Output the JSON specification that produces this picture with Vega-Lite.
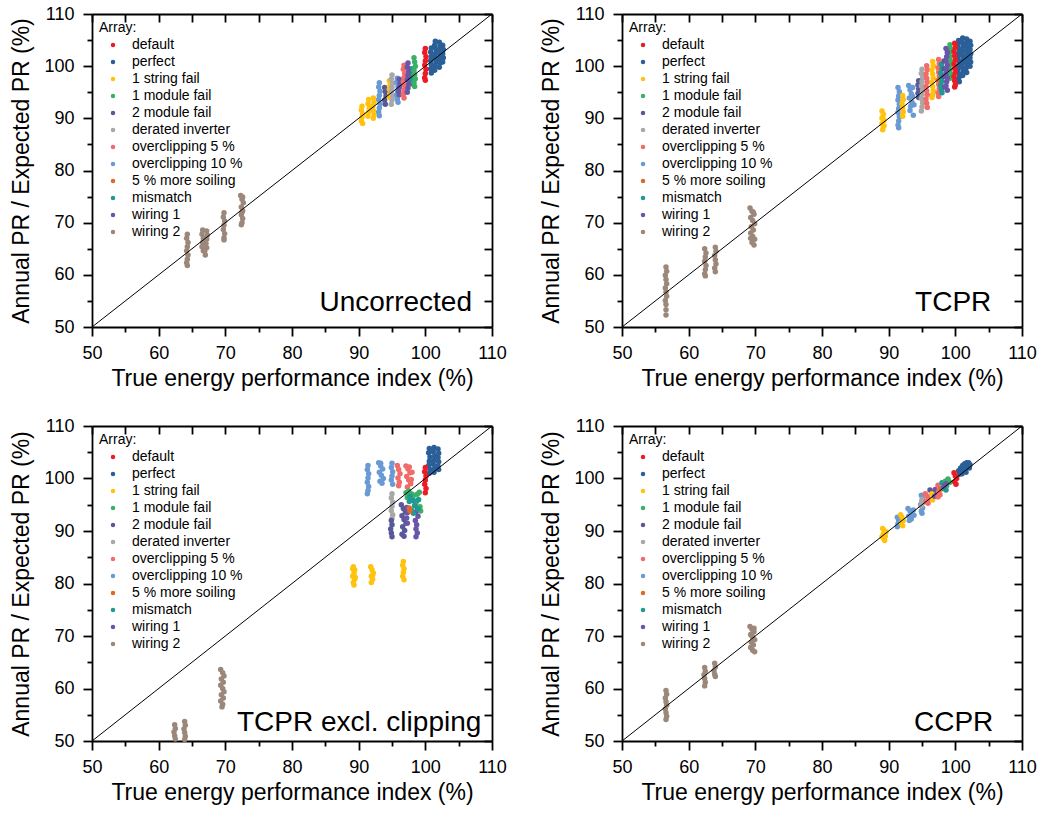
{
"$schema":"https://vega.github.io/schema/vega-lite/v6.json",
"background":"white",
"padding":{"left":10,"top":5,"right":10,"bottom":5},
"config":{
 "font":"Liberation Sans",
 "view":{"stroke":null},
 "axis":{"grid":false,"domainColor":"black","domainWidth":1.8,"tickColor":"black","tickWidth":1.8,"labelColor":"black","labelFontSize":18,"titleFontSize":23,"titleFontWeight":"normal","titleColor":"black","labelFont":"Liberation Sans","titleFont":"Liberation Sans","labelFlush":false,"labelOverlap":false},
 "legend":{"orient":"top-left","offset":1,"padding":6,"titleFontSize":14,"titleFontWeight":"normal","titleColor":"black","titleFont":"Liberation Sans","labelFontSize":14,"labelColor":"black","labelFont":"Liberation Sans","symbolType":"circle","symbolSize":20,"symbolOffset":7,"labelOffset":12,"rowPadding":3,"titlePadding":3,"symbolStrokeWidth":0}
},
"datasets":{
"diag":[{"x":50,"y":50},{"x":110,"y":110}],
"U":[
{"a":"w2","x":64.3,"y":67.8},{"a":"w2","x":64.2,"y":67.0},{"a":"w2","x":64.4,"y":66.2},{"a":"w2","x":64.3,"y":65.4},{"a":"w2","x":64.2,"y":64.6},{"a":"w2","x":64.4,"y":63.8},{"a":"w2","x":64.3,"y":63.0},{"a":"w2","x":64.2,"y":62.3},{"a":"w2","x":64.3,"y":61.8},
{"a":"w2","x":66.6,"y":68.6},{"a":"w2","x":66.5,"y":67.8},{"a":"w2","x":66.7,"y":67.0},{"a":"w2","x":66.6,"y":66.2},{"a":"w2","x":66.5,"y":65.4},{"a":"w2","x":66.7,"y":64.6},{"a":"w2","x":67.2,"y":68.4},{"a":"w2","x":67.3,"y":67.6},{"a":"w2","x":67.2,"y":66.8},{"a":"w2","x":67.1,"y":66.0},{"a":"w2","x":67.2,"y":65.2},{"a":"w2","x":66.9,"y":64.5},{"a":"w2","x":67.0,"y":63.8},
{"a":"w2","x":69.8,"y":71.9},{"a":"w2","x":69.7,"y":71.1},{"a":"w2","x":69.9,"y":70.3},{"a":"w2","x":69.8,"y":69.5},{"a":"w2","x":69.7,"y":68.7},{"a":"w2","x":69.9,"y":67.9},{"a":"w2","x":69.8,"y":67.1},{"a":"w2","x":69.8,"y":66.7},
{"a":"w2","x":72.3,"y":75.2},{"a":"w2","x":72.5,"y":74.5},{"a":"w2","x":72.7,"y":73.8},{"a":"w2","x":72.4,"y":73.0},{"a":"w2","x":72.6,"y":72.3},{"a":"w2","x":72.4,"y":71.5},{"a":"w2","x":72.6,"y":70.8},{"a":"w2","x":72.5,"y":70.0},{"a":"w2","x":72.4,"y":69.6},{"a":"w2","x":72.6,"y":74.9},{"a":"w2","x":72.5,"y":72.0},
{"a":"s","x":90.5,"y":92.3},{"a":"s","x":90.4,"y":91.6},{"a":"s","x":90.6,"y":90.9},{"a":"s","x":90.5,"y":90.2},{"a":"s","x":90.4,"y":89.5},{"a":"s","x":90.6,"y":89.0},
{"a":"s","x":91.5,"y":93.6},{"a":"s","x":91.4,"y":92.8},{"a":"s","x":91.6,"y":92.0},{"a":"s","x":91.5,"y":91.2},{"a":"s","x":91.4,"y":90.4},{"a":"s","x":92.2,"y":93.9},{"a":"s","x":92.3,"y":93.1},{"a":"s","x":92.1,"y":92.3},{"a":"s","x":92.2,"y":91.5},{"a":"s","x":92.3,"y":90.7},{"a":"s","x":92.2,"y":90.0},
{"a":"o10","x":93.1,"y":96.8},{"a":"o10","x":93.0,"y":96.0},{"a":"o10","x":93.2,"y":95.2},{"a":"o10","x":93.1,"y":94.4},{"a":"o10","x":93.0,"y":93.6},{"a":"o10","x":93.2,"y":92.8},{"a":"o10","x":93.1,"y":92.0},{"a":"o10","x":93.0,"y":91.2},{"a":"o10","x":93.1,"y":90.5},
{"a":"m2","x":93.9,"y":95.9},{"a":"m2","x":94.0,"y":95.1},{"a":"m2","x":94.1,"y":94.3},{"a":"m2","x":93.9,"y":93.5},{"a":"m2","x":94.0,"y":92.7},
{"a":"s","x":94.6,"y":97.2},{"a":"s","x":94.7,"y":96.4},{"a":"s","x":94.6,"y":95.6},{"a":"s","x":94.7,"y":94.8},{"a":"s","x":94.6,"y":94.1},
{"a":"di","x":95.0,"y":98.3},{"a":"di","x":94.9,"y":97.5},{"a":"di","x":95.1,"y":96.7},{"a":"di","x":95.0,"y":95.9},{"a":"di","x":94.9,"y":95.1},{"a":"di","x":95.1,"y":94.3},{"a":"di","x":95.0,"y":93.5},{"a":"di","x":94.9,"y":92.7},
{"a":"o10","x":95.8,"y":97.7},{"a":"o10","x":95.7,"y":96.9},{"a":"o10","x":95.9,"y":96.1},{"a":"o10","x":95.8,"y":95.3},{"a":"o10","x":95.7,"y":94.5},{"a":"o10","x":95.8,"y":93.7},{"a":"o10","x":95.9,"y":93.1},
{"a":"w1","x":96.1,"y":97.5},{"a":"w1","x":96.2,"y":96.7},{"a":"w1","x":96.1,"y":95.9},{"a":"w1","x":96.0,"y":95.1},{"a":"w1","x":96.1,"y":94.5},
{"a":"o5","x":96.8,"y":100.2},{"a":"o5","x":96.7,"y":99.4},{"a":"o5","x":96.9,"y":98.6},{"a":"o5","x":96.8,"y":97.8},{"a":"o5","x":96.7,"y":97.0},{"a":"o5","x":96.9,"y":96.2},{"a":"o5","x":96.8,"y":95.4},{"a":"o5","x":96.7,"y":94.6},{"a":"o5","x":96.8,"y":93.9},
{"a":"so","x":97.6,"y":98.0},{"a":"so","x":97.7,"y":97.2},
{"a":"mm","x":97.9,"y":99.5},{"a":"mm","x":98.0,"y":98.5},{"a":"mm","x":97.9,"y":97.5},{"a":"mm","x":98.0,"y":96.6},
{"a":"w1","x":97.4,"y":100.6},{"a":"w1","x":97.3,"y":99.8},{"a":"w1","x":97.5,"y":99.0},{"a":"w1","x":97.4,"y":98.2},{"a":"w1","x":97.3,"y":97.4},{"a":"w1","x":97.5,"y":96.6},{"a":"w1","x":97.4,"y":95.8},{"a":"w1","x":97.3,"y":95.0},
{"a":"m1","x":98.3,"y":101.6},{"a":"m1","x":98.4,"y":100.8},{"a":"m1","x":98.5,"y":100.0},{"a":"m1","x":98.3,"y":99.2},{"a":"m1","x":98.4,"y":98.4},{"a":"m1","x":98.5,"y":97.6},{"a":"m1","x":98.3,"y":96.8},{"a":"m1","x":98.4,"y":96.1},
{"a":"p","x":100.9,"y":103.5},{"a":"p","x":100.8,"y":102.7},{"a":"p","x":100.9,"y":101.9},{"a":"p","x":100.8,"y":101.1},{"a":"p","x":100.9,"y":100.3},{"a":"p","x":100.8,"y":99.5},{"a":"p","x":100.9,"y":98.7},
{"a":"p","x":101.5,"y":104.8},{"a":"p","x":101.4,"y":104.0},{"a":"p","x":101.6,"y":103.2},{"a":"p","x":101.5,"y":102.4},{"a":"p","x":101.4,"y":101.6},{"a":"p","x":101.6,"y":100.8},{"a":"p","x":101.5,"y":100.0},{"a":"p","x":101.4,"y":99.2},
{"a":"p","x":102.1,"y":104.6},{"a":"p","x":102.2,"y":103.8},{"a":"p","x":102.1,"y":103.0},{"a":"p","x":102.2,"y":102.2},{"a":"p","x":102.1,"y":101.4},{"a":"p","x":102.2,"y":100.6},{"a":"p","x":102.1,"y":99.8},
{"a":"p","x":102.6,"y":104.0},{"a":"p","x":102.7,"y":103.2},{"a":"p","x":102.6,"y":102.4},{"a":"p","x":102.7,"y":101.6},{"a":"p","x":102.6,"y":100.8},
{"a":"d","x":100.0,"y":103.4},{"a":"d","x":99.9,"y":102.6},{"a":"d","x":100.1,"y":101.8},{"a":"d","x":100.0,"y":101.0},{"a":"d","x":99.9,"y":100.2},{"a":"d","x":100.1,"y":99.4},{"a":"d","x":100.0,"y":98.6},{"a":"d","x":99.9,"y":97.8},{"a":"d","x":100.0,"y":97.3}
],
"T":[
{"a":"w2","x":56.6,"y":61.5},{"a":"w2","x":56.7,"y":60.7},{"a":"w2","x":56.5,"y":59.9},{"a":"w2","x":56.6,"y":59.1},{"a":"w2","x":56.7,"y":58.3},{"a":"w2","x":56.5,"y":57.5},{"a":"w2","x":56.6,"y":56.7},{"a":"w2","x":56.7,"y":55.9},{"a":"w2","x":56.5,"y":55.1},{"a":"w2","x":56.6,"y":54.3},{"a":"w2","x":56.6,"y":53.3},{"a":"w2","x":56.6,"y":52.3},
{"a":"w2","x":62.4,"y":65.0},{"a":"w2","x":62.6,"y":64.2},{"a":"w2","x":62.5,"y":63.4},{"a":"w2","x":62.4,"y":62.6},{"a":"w2","x":62.6,"y":61.8},{"a":"w2","x":62.5,"y":61.0},{"a":"w2","x":62.4,"y":60.2},{"a":"w2","x":62.5,"y":59.8},
{"a":"w2","x":64.0,"y":65.3},{"a":"w2","x":64.1,"y":64.5},{"a":"w2","x":63.9,"y":63.7},{"a":"w2","x":64.0,"y":62.9},{"a":"w2","x":64.1,"y":62.1},{"a":"w2","x":63.9,"y":61.3},{"a":"w2","x":64.0,"y":60.6},
{"a":"w2","x":69.2,"y":72.8},{"a":"w2","x":69.5,"y":72.2},{"a":"w2","x":69.8,"y":71.6},{"a":"w2","x":69.3,"y":71.0},{"a":"w2","x":69.6,"y":70.4},{"a":"w2","x":69.9,"y":69.8},{"a":"w2","x":69.4,"y":69.2},{"a":"w2","x":69.7,"y":68.6},{"a":"w2","x":69.3,"y":68.0},{"a":"w2","x":69.6,"y":67.4},{"a":"w2","x":69.9,"y":66.8},{"a":"w2","x":69.5,"y":66.2},{"a":"w2","x":69.8,"y":65.7},{"a":"w2","x":69.3,"y":67.0},{"a":"w2","x":69.7,"y":72.0},
{"a":"s","x":89.0,"y":91.4},{"a":"s","x":89.2,"y":90.8},{"a":"s","x":89.1,"y":90.2},{"a":"s","x":89.3,"y":89.6},{"a":"s","x":89.0,"y":89.0},{"a":"s","x":89.2,"y":88.4},{"a":"s","x":89.1,"y":87.8},{"a":"s","x":89.3,"y":88.6},{"a":"s","x":89.0,"y":90.0},
{"a":"o10","x":91.4,"y":95.9},{"a":"o10","x":91.6,"y":95.1},{"a":"o10","x":91.5,"y":94.3},{"a":"o10","x":91.4,"y":93.5},{"a":"o10","x":91.6,"y":92.7},{"a":"o10","x":91.5,"y":91.9},{"a":"o10","x":91.4,"y":91.1},{"a":"o10","x":91.6,"y":90.3},{"a":"o10","x":91.5,"y":89.5},{"a":"o10","x":91.4,"y":88.7},{"a":"o10","x":91.5,"y":88.2},
{"a":"s","x":92.1,"y":94.4},{"a":"s","x":92.2,"y":93.6},{"a":"s","x":92.0,"y":92.8},{"a":"s","x":92.1,"y":92.0},{"a":"s","x":92.2,"y":91.2},{"a":"s","x":92.1,"y":90.4},
{"a":"o10","x":93.0,"y":96.3},{"a":"o10","x":93.2,"y":95.5},{"a":"o10","x":93.4,"y":94.7},{"a":"o10","x":93.6,"y":95.9},{"a":"o10","x":93.1,"y":93.9},{"a":"o10","x":93.5,"y":93.1},{"a":"o10","x":93.3,"y":92.3},{"a":"o10","x":93.2,"y":91.5},{"a":"o10","x":93.6,"y":94.2},{"a":"o10","x":93.8,"y":92.6},{"a":"o10","x":93.7,"y":90.6},
{"a":"m2","x":94.5,"y":97.2},{"a":"m2","x":94.4,"y":96.4},{"a":"m2","x":94.5,"y":95.6},{"a":"m2","x":94.4,"y":94.8},{"a":"m2","x":94.5,"y":94.0},
{"a":"di","x":95.0,"y":99.4},{"a":"di","x":94.9,"y":98.6},{"a":"di","x":95.1,"y":97.8},{"a":"di","x":95.0,"y":97.0},{"a":"di","x":94.9,"y":96.2},{"a":"di","x":95.1,"y":95.4},{"a":"di","x":95.0,"y":94.6},{"a":"di","x":94.9,"y":93.8},{"a":"di","x":95.1,"y":93.0},{"a":"di","x":95.0,"y":92.2},{"a":"di","x":94.9,"y":91.4},
{"a":"o5","x":95.7,"y":100.1},{"a":"o5","x":95.8,"y":99.3},{"a":"o5","x":95.6,"y":98.5},{"a":"o5","x":95.7,"y":97.7},{"a":"o5","x":95.8,"y":96.9},{"a":"o5","x":95.6,"y":96.1},{"a":"o5","x":95.7,"y":95.3},{"a":"o5","x":95.8,"y":94.5},{"a":"o5","x":95.6,"y":93.7},{"a":"o5","x":95.7,"y":92.9},{"a":"o5","x":95.8,"y":92.1},
{"a":"s","x":96.6,"y":100.9},{"a":"s","x":96.7,"y":100.1},{"a":"s","x":96.5,"y":99.3},{"a":"s","x":96.6,"y":98.5},{"a":"s","x":96.7,"y":97.7},{"a":"s","x":96.5,"y":96.9},{"a":"s","x":96.6,"y":96.1},{"a":"s","x":96.7,"y":95.3},{"a":"s","x":96.6,"y":94.5},{"a":"s","x":96.5,"y":94.0},
{"a":"o5","x":97.5,"y":101.3},{"a":"o5","x":97.6,"y":100.5},{"a":"o5","x":97.4,"y":99.7},{"a":"o5","x":97.5,"y":98.9},{"a":"o5","x":97.6,"y":98.1},{"a":"o5","x":97.4,"y":97.3},{"a":"o5","x":97.5,"y":96.5},{"a":"o5","x":97.6,"y":95.7},{"a":"o5","x":97.4,"y":94.9},{"a":"o5","x":97.5,"y":94.2},
{"a":"so","x":97.7,"y":97.5},{"a":"so","x":97.8,"y":96.8},
{"a":"mm","x":97.9,"y":100.3},{"a":"mm","x":98.0,"y":99.5},{"a":"mm","x":97.8,"y":98.7},{"a":"mm","x":97.9,"y":97.9},{"a":"mm","x":98.0,"y":97.1},{"a":"mm","x":97.8,"y":96.3},{"a":"mm","x":97.9,"y":95.5},{"a":"mm","x":98.0,"y":94.9},
{"a":"m2","x":98.3,"y":101.0},{"a":"m2","x":98.3,"y":99.5},{"a":"m2","x":98.3,"y":98.0},
{"a":"m1","x":99.2,"y":104.1},{"a":"m1","x":99.3,"y":103.3},{"a":"m1","x":99.1,"y":102.5},{"a":"m1","x":99.2,"y":101.7},{"a":"m1","x":99.3,"y":100.9},{"a":"m1","x":99.1,"y":100.1},{"a":"m1","x":99.2,"y":99.3},{"a":"m1","x":99.3,"y":98.5},{"a":"m1","x":99.2,"y":97.7},
{"a":"w1","x":98.6,"y":103.4},{"a":"w1","x":98.8,"y":102.6},{"a":"w1","x":98.7,"y":101.8},{"a":"w1","x":98.6,"y":101.0},{"a":"w1","x":98.8,"y":100.2},{"a":"w1","x":98.7,"y":99.4},{"a":"w1","x":98.6,"y":98.6},{"a":"w1","x":98.8,"y":97.8},{"a":"w1","x":98.7,"y":97.0},{"a":"w1","x":98.6,"y":96.2},{"a":"w1","x":98.8,"y":95.4},{"a":"w1","x":98.4,"y":96.0},
{"a":"p","x":100.5,"y":104.9},{"a":"p","x":100.4,"y":104.1},{"a":"p","x":100.6,"y":103.3},{"a":"p","x":100.5,"y":102.5},{"a":"p","x":100.4,"y":101.7},{"a":"p","x":100.6,"y":100.9},{"a":"p","x":100.5,"y":100.1},{"a":"p","x":100.4,"y":99.3},{"a":"p","x":100.6,"y":98.5},{"a":"p","x":100.5,"y":97.7},
{"a":"p","x":101.1,"y":105.4},{"a":"p","x":101.0,"y":104.6},{"a":"p","x":101.2,"y":103.8},{"a":"p","x":101.1,"y":103.0},{"a":"p","x":101.0,"y":102.2},{"a":"p","x":101.2,"y":101.4},{"a":"p","x":101.1,"y":100.6},{"a":"p","x":101.0,"y":99.8},{"a":"p","x":101.2,"y":99.0},{"a":"p","x":101.1,"y":98.2},
{"a":"p","x":101.7,"y":105.2},{"a":"p","x":101.6,"y":104.4},{"a":"p","x":101.8,"y":103.6},{"a":"p","x":101.7,"y":102.8},{"a":"p","x":101.6,"y":102.0},{"a":"p","x":101.8,"y":101.2},{"a":"p","x":101.7,"y":100.4},{"a":"p","x":101.6,"y":99.6},{"a":"p","x":101.7,"y":98.8},
{"a":"p","x":102.2,"y":104.8},{"a":"p","x":102.3,"y":104.0},{"a":"p","x":102.2,"y":103.2},{"a":"p","x":102.3,"y":102.4},{"a":"p","x":102.2,"y":101.6},{"a":"p","x":102.3,"y":100.8},{"a":"p","x":102.2,"y":100.0},{"a":"p","x":100.6,"y":97.0},
{"a":"d","x":99.9,"y":104.4},{"a":"d","x":100.0,"y":103.6},{"a":"d","x":99.8,"y":102.8},{"a":"d","x":99.9,"y":102.0},{"a":"d","x":100.0,"y":101.2},{"a":"d","x":99.8,"y":100.4},{"a":"d","x":99.9,"y":99.6},{"a":"d","x":100.0,"y":98.8},{"a":"d","x":99.8,"y":98.0},{"a":"d","x":99.9,"y":97.2},{"a":"d","x":100.0,"y":96.4},{"a":"d","x":99.9,"y":96.0}
],
"X":[
{"a":"w2","x":69.3,"y":63.6},{"a":"w2","x":69.6,"y":63.0},{"a":"w2","x":69.8,"y":62.4},{"a":"w2","x":69.4,"y":61.8},{"a":"w2","x":69.7,"y":61.2},{"a":"w2","x":69.3,"y":60.6},{"a":"w2","x":69.6,"y":60.0},{"a":"w2","x":69.8,"y":59.4},{"a":"w2","x":69.4,"y":58.8},{"a":"w2","x":69.7,"y":58.2},{"a":"w2","x":69.3,"y":57.6},{"a":"w2","x":69.6,"y":57.0},{"a":"w2","x":69.5,"y":56.5},
{"a":"w2","x":62.4,"y":53.1},{"a":"w2","x":62.5,"y":52.4},{"a":"w2","x":62.3,"y":51.7},{"a":"w2","x":62.4,"y":51.0},{"a":"w2","x":62.5,"y":50.4},
{"a":"w2","x":63.9,"y":53.7},{"a":"w2","x":64.0,"y":53.0},{"a":"w2","x":63.8,"y":52.3},{"a":"w2","x":63.9,"y":51.6},{"a":"w2","x":64.0,"y":50.9},{"a":"w2","x":63.9,"y":50.3},
{"a":"s","x":89.2,"y":83.2},{"a":"s","x":89.4,"y":82.6},{"a":"s","x":89.3,"y":82.0},{"a":"s","x":89.1,"y":81.4},{"a":"s","x":89.4,"y":80.8},{"a":"s","x":89.2,"y":80.2},{"a":"s","x":89.3,"y":79.7},{"a":"s","x":89.1,"y":82.8},{"a":"s","x":89.5,"y":81.2},
{"a":"s","x":91.8,"y":83.2},{"a":"s","x":92.0,"y":82.6},{"a":"s","x":92.2,"y":82.0},{"a":"s","x":91.9,"y":81.4},{"a":"s","x":92.1,"y":80.8},{"a":"s","x":91.9,"y":80.2},{"a":"s","x":92.1,"y":81.6},
{"a":"s","x":96.7,"y":84.2},{"a":"s","x":96.6,"y":83.5},{"a":"s","x":96.8,"y":82.8},{"a":"s","x":96.7,"y":82.1},{"a":"s","x":96.6,"y":81.4},{"a":"s","x":96.8,"y":80.7},
{"a":"o10","x":91.4,"y":102.5},{"a":"o10","x":91.3,"y":101.7},{"a":"o10","x":91.5,"y":100.9},{"a":"o10","x":91.4,"y":100.1},{"a":"o10","x":91.3,"y":99.3},{"a":"o10","x":91.5,"y":98.5},{"a":"o10","x":91.4,"y":97.7},{"a":"o10","x":91.3,"y":97.1},
{"a":"o10","x":93.0,"y":103.0},{"a":"o10","x":93.3,"y":102.4},{"a":"o10","x":93.6,"y":101.8},{"a":"o10","x":93.1,"y":101.2},{"a":"o10","x":93.4,"y":100.6},{"a":"o10","x":93.7,"y":100.0},{"a":"o10","x":93.2,"y":99.5},{"a":"o10","x":93.5,"y":99.1},{"a":"o10","x":93.3,"y":102.9},
{"a":"o10","x":95.0,"y":102.9},{"a":"o10","x":94.9,"y":102.1},{"a":"o10","x":95.1,"y":101.3},{"a":"o10","x":95.0,"y":100.5},{"a":"o10","x":94.9,"y":99.7},{"a":"o10","x":95.1,"y":98.9},
{"a":"o5","x":95.8,"y":102.5},{"a":"o5","x":96.0,"y":101.7},{"a":"o5","x":96.2,"y":100.9},{"a":"o5","x":95.9,"y":100.1},{"a":"o5","x":96.1,"y":99.3},{"a":"o5","x":96.0,"y":98.6},
{"a":"o5","x":97.1,"y":102.4},{"a":"o5","x":97.4,"y":101.8},{"a":"o5","x":97.7,"y":101.1},{"a":"o5","x":97.2,"y":100.4},{"a":"o5","x":97.5,"y":99.7},{"a":"o5","x":97.8,"y":99.0},{"a":"o5","x":97.3,"y":98.4},{"a":"o5","x":97.6,"y":102.2},{"a":"o5","x":98.0,"y":101.2},{"a":"o5","x":97.9,"y":99.8},
{"a":"di","x":95.0,"y":97.1},{"a":"di","x":94.9,"y":96.3},{"a":"di","x":95.1,"y":95.5},{"a":"di","x":95.0,"y":94.7},{"a":"di","x":94.9,"y":93.9},{"a":"di","x":95.1,"y":93.1},{"a":"di","x":95.0,"y":92.4},
{"a":"m2","x":94.9,"y":92.0},{"a":"m2","x":95.0,"y":91.2},{"a":"m2","x":94.8,"y":90.4},{"a":"m2","x":94.9,"y":89.6},{"a":"m2","x":95.0,"y":88.9},
{"a":"m2","x":96.4,"y":95.0},{"a":"m2","x":96.7,"y":94.3},{"a":"m2","x":97.0,"y":93.6},{"a":"m2","x":96.5,"y":92.9},{"a":"m2","x":96.8,"y":92.2},{"a":"m2","x":97.1,"y":91.5},{"a":"m2","x":96.6,"y":90.8},{"a":"m2","x":96.9,"y":90.1},{"a":"m2","x":96.5,"y":89.4},{"a":"m2","x":96.8,"y":89.0},
{"a":"w1","x":97.2,"y":94.5},{"a":"w1","x":97.3,"y":93.5},{"a":"w1","x":97.2,"y":92.5},{"a":"w1","x":97.3,"y":91.5},
{"a":"w1","x":98.5,"y":95.2},{"a":"w1","x":98.8,"y":94.4},{"a":"w1","x":98.6,"y":93.6},{"a":"w1","x":98.9,"y":92.8},{"a":"w1","x":98.5,"y":92.0},{"a":"w1","x":98.7,"y":91.2},{"a":"w1","x":98.6,"y":90.4},{"a":"w1","x":98.8,"y":89.6},{"a":"w1","x":98.6,"y":88.9},
{"a":"m1","x":97.1,"y":97.3},{"a":"m1","x":97.5,"y":97.6},{"a":"m1","x":97.9,"y":97.1},{"a":"m1","x":98.3,"y":96.8},{"a":"m1","x":98.8,"y":97.0},{"a":"m1","x":99.1,"y":97.4},{"a":"m1","x":97.3,"y":96.4},{"a":"m1","x":98.0,"y":96.0},{"a":"m1","x":99.0,"y":96.0},{"a":"m1","x":98.6,"y":95.4},{"a":"m1","x":99.2,"y":94.6},{"a":"m1","x":99.3,"y":93.8},
{"a":"mm","x":97.7,"y":96.6},{"a":"mm","x":98.2,"y":95.8},{"a":"mm","x":97.6,"y":95.6},{"a":"mm","x":98.4,"y":94.8},{"a":"mm","x":98.9,"y":94.2},{"a":"mm","x":97.9,"y":94.0},{"a":"mm","x":98.9,"y":95.9},{"a":"mm","x":98.2,"y":93.4},
{"a":"so","x":97.6,"y":94.4},{"a":"so","x":97.7,"y":93.8},
{"a":"p","x":100.6,"y":105.7},{"a":"p","x":100.5,"y":104.9},{"a":"p","x":100.7,"y":104.1},{"a":"p","x":100.6,"y":103.3},{"a":"p","x":100.5,"y":102.5},{"a":"p","x":100.7,"y":101.7},{"a":"p","x":100.6,"y":101.0},
{"a":"p","x":101.3,"y":105.9},{"a":"p","x":101.2,"y":105.1},{"a":"p","x":101.4,"y":104.3},{"a":"p","x":101.3,"y":103.5},{"a":"p","x":101.2,"y":102.7},{"a":"p","x":101.4,"y":101.9},{"a":"p","x":101.3,"y":101.2},
{"a":"p","x":101.9,"y":105.6},{"a":"p","x":102.0,"y":104.8},{"a":"p","x":101.9,"y":104.0},{"a":"p","x":102.0,"y":103.2},{"a":"p","x":101.9,"y":102.4},{"a":"p","x":102.0,"y":101.7},
{"a":"d","x":100.0,"y":102.1},{"a":"d","x":99.9,"y":101.3},{"a":"d","x":100.1,"y":100.5},{"a":"d","x":100.0,"y":99.7},{"a":"d","x":99.9,"y":98.9},{"a":"d","x":100.1,"y":98.1},{"a":"d","x":100.0,"y":97.3}
],
"C":[
{"a":"w2","x":56.6,"y":59.6},{"a":"w2","x":56.7,"y":58.9},{"a":"w2","x":56.5,"y":58.2},{"a":"w2","x":56.6,"y":57.5},{"a":"w2","x":56.7,"y":56.8},{"a":"w2","x":56.5,"y":56.1},{"a":"w2","x":56.6,"y":55.4},{"a":"w2","x":56.7,"y":54.7},{"a":"w2","x":56.6,"y":54.1},
{"a":"w2","x":62.4,"y":64.0},{"a":"w2","x":62.5,"y":63.3},{"a":"w2","x":62.3,"y":62.6},{"a":"w2","x":62.4,"y":61.9},{"a":"w2","x":62.5,"y":61.2},{"a":"w2","x":62.4,"y":60.5},
{"a":"w2","x":63.9,"y":64.8},{"a":"w2","x":64.0,"y":64.1},{"a":"w2","x":63.8,"y":63.4},{"a":"w2","x":63.9,"y":62.7},{"a":"w2","x":64.0,"y":62.3},
{"a":"w2","x":69.2,"y":71.8},{"a":"w2","x":69.5,"y":71.3},{"a":"w2","x":69.8,"y":70.8},{"a":"w2","x":69.3,"y":70.3},{"a":"w2","x":69.6,"y":69.8},{"a":"w2","x":69.9,"y":69.3},{"a":"w2","x":69.4,"y":68.8},{"a":"w2","x":69.7,"y":68.3},{"a":"w2","x":69.3,"y":67.8},{"a":"w2","x":69.6,"y":67.3},{"a":"w2","x":69.9,"y":67.0},{"a":"w2","x":69.5,"y":70.0},{"a":"w2","x":69.8,"y":71.5},
{"a":"s","x":89.1,"y":90.5},{"a":"s","x":89.4,"y":90.0},{"a":"s","x":89.2,"y":89.5},{"a":"s","x":89.5,"y":89.0},{"a":"s","x":89.3,"y":88.5},{"a":"s","x":89.0,"y":88.9},{"a":"s","x":89.6,"y":89.8},{"a":"s","x":89.4,"y":88.2},
{"a":"o10","x":91.3,"y":92.6},{"a":"o10","x":91.5,"y":92.0},{"a":"o10","x":91.4,"y":91.4},{"a":"o10","x":91.3,"y":90.8},
{"a":"s","x":91.8,"y":93.1},{"a":"s","x":92.0,"y":92.6},{"a":"s","x":92.2,"y":92.0},{"a":"s","x":91.9,"y":91.5},{"a":"s","x":92.1,"y":91.0},
{"a":"o10","x":92.9,"y":94.3},{"a":"o10","x":93.2,"y":93.8},{"a":"o10","x":93.5,"y":93.3},{"a":"o10","x":93.0,"y":92.8},{"a":"o10","x":93.4,"y":92.3},{"a":"o10","x":93.7,"y":94.0},{"a":"o10","x":93.8,"y":93.0},{"a":"o10","x":93.1,"y":92.0},
{"a":"o10","x":94.9,"y":96.8},{"a":"o10","x":95.1,"y":96.2},{"a":"o10","x":95.0,"y":95.6},{"a":"o10","x":94.8,"y":95.0},{"a":"o10","x":95.1,"y":94.4},{"a":"o10","x":94.9,"y":93.8},{"a":"o10","x":95.0,"y":93.4},
{"a":"di","x":95.0,"y":96.0},{"a":"di","x":95.1,"y":95.4},{"a":"di","x":94.9,"y":94.8},
{"a":"o5","x":95.5,"y":97.1},{"a":"o5","x":95.8,"y":96.6},{"a":"o5","x":96.1,"y":96.1},{"a":"o5","x":95.6,"y":95.6},{"a":"o5","x":95.9,"y":95.3},
{"a":"m2","x":96.2,"y":97.8},{"a":"m2","x":96.5,"y":97.3},{"a":"m2","x":96.8,"y":96.8},
{"a":"s","x":96.5,"y":97.1},{"a":"s","x":96.7,"y":96.5},{"a":"s","x":96.6,"y":95.9},
{"a":"w1","x":97.0,"y":97.9},{"a":"w1","x":97.3,"y":97.3},{"a":"w1","x":96.9,"y":96.6},
{"a":"o5","x":97.4,"y":98.7},{"a":"o5","x":97.6,"y":98.1},{"a":"o5","x":97.5,"y":97.5},{"a":"o5","x":97.7,"y":96.9},{"a":"o5","x":97.4,"y":96.5},
{"a":"so","x":97.9,"y":98.0},
{"a":"mm","x":98.0,"y":99.2},{"a":"mm","x":98.4,"y":98.8},{"a":"mm","x":98.8,"y":99.6},{"a":"mm","x":98.2,"y":98.2},{"a":"mm","x":98.6,"y":97.8},
{"a":"m1","x":98.5,"y":99.5},{"a":"m1","x":98.9,"y":99.9},{"a":"m1","x":99.2,"y":99.3},{"a":"m1","x":98.7,"y":98.6},
{"a":"w1","x":98.3,"y":98.5},{"a":"w1","x":98.6,"y":99.0},
{"a":"p","x":100.5,"y":101.5},{"a":"p","x":100.8,"y":102.0},{"a":"p","x":101.1,"y":102.5},{"a":"p","x":101.4,"y":102.8},{"a":"p","x":101.7,"y":103.0},{"a":"p","x":102.0,"y":103.0},{"a":"p","x":102.2,"y":102.6},{"a":"p","x":100.6,"y":100.8},{"a":"p","x":100.9,"y":101.3},{"a":"p","x":101.2,"y":101.7},{"a":"p","x":101.5,"y":102.1},{"a":"p","x":101.8,"y":102.3},{"a":"p","x":102.1,"y":102.0},{"a":"p","x":101.6,"y":101.2},{"a":"p","x":101.0,"y":100.9},
{"a":"d","x":99.8,"y":101.1},{"a":"d","x":100.0,"y":100.5},{"a":"d","x":100.2,"y":100.0},{"a":"d","x":99.9,"y":99.4},{"a":"d","x":100.1,"y":98.9}
]
},
"columns":2,
"spacing":{"row":99,"column":130},
"bounds":"flush",
"resolve":{"legend":{"color":"independent"}},
"concat":[
{"width":400,"height":313,"resolve":{"axis":{"x":"independent","y":"independent"}},"layer":[
 {"data":{"name":"U"},"mark":{"type":"point","filled":true,"size":30,"opacity":1},"encoding":{
  "x":{"field":"x","type":"quantitative","scale":{"domain":[50,110],"nice":false},"axis":{"orient":"bottom","values":[50,55,60,65,70,75,80,85,90,95,100,105,110],"tickSize":{"condition":{"test":"datum.value % 10 === 0","value":9},"value":5},"labelExpr":"datum.value % 10 === 0 ? datum.label : ''","labelPadding":8,"titlePadding":5,"title":"True energy performance index (%)"}},
  "y":{"field":"y","type":"quantitative","scale":{"domain":[50,110],"nice":false},"axis":{"orient":"left","values":[50,55,60,65,70,75,80,85,90,95,100,105,110],"tickSize":{"condition":{"test":"datum.value % 10 === 0","value":9},"value":5},"labelExpr":"datum.value % 10 === 0 ? datum.label : ''","labelPadding":9,"titlePadding":10,"title":"Annual PR / Expected PR (%)"}},
  "color":{"field":"a","type":"nominal","scale":{"domain":["d","p","s","m1","m2","di","o5","o10","so","mm","w1","w2"],"range":["#ED1C24","#2B5F98","#FFC20F","#3CB064","#59599A","#A8A8A8","#F26B6B","#6A9AD3","#DD6A2A","#1E9994","#6856A8","#9B887A"]},"legend":{"title":"Array:","labelExpr":"datum.label=='d'?'default':datum.label=='p'?'perfect':datum.label=='s'?'1 string fail':datum.label=='m1'?'1 module fail':datum.label=='m2'?'2 module fail':datum.label=='di'?'derated inverter':datum.label=='o5'?'overclipping 5 %':datum.label=='o10'?'overclipping 10 %':datum.label=='so'?'5 % more soiling':datum.label=='mm'?'mismatch':datum.label=='w1'?'wiring 1':'wiring 2'"}}}},
 {"data":{"name":"diag"},"mark":{"type":"line","color":"black","strokeWidth":1},"encoding":{
  "x":{"field":"x","type":"quantitative","scale":{"domain":[50,110],"nice":false},"axis":{"orient":"top","values":[50,55,60,65,70,75,80,85,90,95,100,105,110],"tickSize":-8,"labels":false,"title":null}},
  "y":{"field":"y","type":"quantitative","scale":{"domain":[50,110],"nice":false},"axis":{"orient":"right","values":[50,55,60,65,70,75,80,85,90,95,100,105,110],"tickSize":-8,"labels":false,"title":null}}}},
 {"data":{"values":[{}]},"mark":{"type":"text","text":"Uncorrected","align":"right","baseline":"alphabetic","fontSize":28,"color":"black"},"encoding":{
  "x":{"datum":107,"type":"quantitative","axis":null},"y":{"datum":53.1,"type":"quantitative","axis":null}}}
]},
{"width":400,"height":313,"resolve":{"axis":{"x":"independent","y":"independent"}},"layer":[
 {"data":{"name":"T"},"mark":{"type":"point","filled":true,"size":30,"opacity":1},"encoding":{
  "x":{"field":"x","type":"quantitative","scale":{"domain":[50,110],"nice":false},"axis":{"orient":"bottom","values":[50,55,60,65,70,75,80,85,90,95,100,105,110],"tickSize":{"condition":{"test":"datum.value % 10 === 0","value":9},"value":5},"labelExpr":"datum.value % 10 === 0 ? datum.label : ''","labelPadding":8,"titlePadding":5,"title":"True energy performance index (%)"}},
  "y":{"field":"y","type":"quantitative","scale":{"domain":[50,110],"nice":false},"axis":{"orient":"left","values":[50,55,60,65,70,75,80,85,90,95,100,105,110],"tickSize":{"condition":{"test":"datum.value % 10 === 0","value":9},"value":5},"labelExpr":"datum.value % 10 === 0 ? datum.label : ''","labelPadding":9,"titlePadding":10,"title":"Annual PR / Expected PR (%)"}},
  "color":{"field":"a","type":"nominal","scale":{"domain":["d","p","s","m1","m2","di","o5","o10","so","mm","w1","w2"],"range":["#ED1C24","#2B5F98","#FFC20F","#3CB064","#59599A","#A8A8A8","#F26B6B","#6A9AD3","#DD6A2A","#1E9994","#6856A8","#9B887A"]},"legend":{"title":"Array:","labelExpr":"datum.label=='d'?'default':datum.label=='p'?'perfect':datum.label=='s'?'1 string fail':datum.label=='m1'?'1 module fail':datum.label=='m2'?'2 module fail':datum.label=='di'?'derated inverter':datum.label=='o5'?'overclipping 5 %':datum.label=='o10'?'overclipping 10 %':datum.label=='so'?'5 % more soiling':datum.label=='mm'?'mismatch':datum.label=='w1'?'wiring 1':'wiring 2'"}}}},
 {"data":{"name":"diag"},"mark":{"type":"line","color":"black","strokeWidth":1},"encoding":{
  "x":{"field":"x","type":"quantitative","scale":{"domain":[50,110],"nice":false},"axis":{"orient":"top","values":[50,55,60,65,70,75,80,85,90,95,100,105,110],"tickSize":-8,"labels":false,"title":null}},
  "y":{"field":"y","type":"quantitative","scale":{"domain":[50,110],"nice":false},"axis":{"orient":"right","values":[50,55,60,65,70,75,80,85,90,95,100,105,110],"tickSize":-8,"labels":false,"title":null}}}},
 {"data":{"values":[{}]},"mark":{"type":"text","text":"TCPR","align":"right","baseline":"alphabetic","fontSize":28,"color":"black"},"encoding":{
  "x":{"datum":105.4,"type":"quantitative","axis":null},"y":{"datum":53.1,"type":"quantitative","axis":null}}}
]},
{"width":400,"height":315,"resolve":{"axis":{"x":"independent","y":"independent"}},"layer":[
 {"data":{"name":"X"},"mark":{"type":"point","filled":true,"size":30,"opacity":1},"encoding":{
  "x":{"field":"x","type":"quantitative","scale":{"domain":[50,110],"nice":false},"axis":{"orient":"bottom","values":[50,55,60,65,70,75,80,85,90,95,100,105,110],"tickSize":{"condition":{"test":"datum.value % 10 === 0","value":9},"value":5},"labelExpr":"datum.value % 10 === 0 ? datum.label : ''","labelPadding":8,"titlePadding":5,"title":"True energy performance index (%)"}},
  "y":{"field":"y","type":"quantitative","scale":{"domain":[50,110],"nice":false},"axis":{"orient":"left","values":[50,55,60,65,70,75,80,85,90,95,100,105,110],"tickSize":{"condition":{"test":"datum.value % 10 === 0","value":9},"value":5},"labelExpr":"datum.value % 10 === 0 ? datum.label : ''","labelPadding":9,"titlePadding":10,"title":"Annual PR / Expected PR (%)"}},
  "color":{"field":"a","type":"nominal","scale":{"domain":["d","p","s","m1","m2","di","o5","o10","so","mm","w1","w2"],"range":["#ED1C24","#2B5F98","#FFC20F","#3CB064","#59599A","#A8A8A8","#F26B6B","#6A9AD3","#DD6A2A","#1E9994","#6856A8","#9B887A"]},"legend":{"title":"Array:","labelExpr":"datum.label=='d'?'default':datum.label=='p'?'perfect':datum.label=='s'?'1 string fail':datum.label=='m1'?'1 module fail':datum.label=='m2'?'2 module fail':datum.label=='di'?'derated inverter':datum.label=='o5'?'overclipping 5 %':datum.label=='o10'?'overclipping 10 %':datum.label=='so'?'5 % more soiling':datum.label=='mm'?'mismatch':datum.label=='w1'?'wiring 1':'wiring 2'"}}}},
 {"data":{"name":"diag"},"mark":{"type":"line","color":"black","strokeWidth":1},"encoding":{
  "x":{"field":"x","type":"quantitative","scale":{"domain":[50,110],"nice":false},"axis":{"orient":"top","values":[50,55,60,65,70,75,80,85,90,95,100,105,110],"tickSize":-8,"labels":false,"title":null}},
  "y":{"field":"y","type":"quantitative","scale":{"domain":[50,110],"nice":false},"axis":{"orient":"right","values":[50,55,60,65,70,75,80,85,90,95,100,105,110],"tickSize":-8,"labels":false,"title":null}}}},
 {"data":{"values":[{}]},"mark":{"type":"text","text":"TCPR excl. clipping","align":"right","baseline":"alphabetic","fontSize":28,"color":"black"},"encoding":{
  "x":{"datum":108.4,"type":"quantitative","axis":null},"y":{"datum":51.9,"type":"quantitative","axis":null}}}
]},
{"width":400,"height":315,"resolve":{"axis":{"x":"independent","y":"independent"}},"layer":[
 {"data":{"name":"C"},"mark":{"type":"point","filled":true,"size":30,"opacity":1},"encoding":{
  "x":{"field":"x","type":"quantitative","scale":{"domain":[50,110],"nice":false},"axis":{"orient":"bottom","values":[50,55,60,65,70,75,80,85,90,95,100,105,110],"tickSize":{"condition":{"test":"datum.value % 10 === 0","value":9},"value":5},"labelExpr":"datum.value % 10 === 0 ? datum.label : ''","labelPadding":8,"titlePadding":5,"title":"True energy performance index (%)"}},
  "y":{"field":"y","type":"quantitative","scale":{"domain":[50,110],"nice":false},"axis":{"orient":"left","values":[50,55,60,65,70,75,80,85,90,95,100,105,110],"tickSize":{"condition":{"test":"datum.value % 10 === 0","value":9},"value":5},"labelExpr":"datum.value % 10 === 0 ? datum.label : ''","labelPadding":9,"titlePadding":10,"title":"Annual PR / Expected PR (%)"}},
  "color":{"field":"a","type":"nominal","scale":{"domain":["d","p","s","m1","m2","di","o5","o10","so","mm","w1","w2"],"range":["#ED1C24","#2B5F98","#FFC20F","#3CB064","#59599A","#A8A8A8","#F26B6B","#6A9AD3","#DD6A2A","#1E9994","#6856A8","#9B887A"]},"legend":{"title":"Array:","labelExpr":"datum.label=='d'?'default':datum.label=='p'?'perfect':datum.label=='s'?'1 string fail':datum.label=='m1'?'1 module fail':datum.label=='m2'?'2 module fail':datum.label=='di'?'derated inverter':datum.label=='o5'?'overclipping 5 %':datum.label=='o10'?'overclipping 10 %':datum.label=='so'?'5 % more soiling':datum.label=='mm'?'mismatch':datum.label=='w1'?'wiring 1':'wiring 2'"}}}},
 {"data":{"name":"diag"},"mark":{"type":"line","color":"black","strokeWidth":1},"encoding":{
  "x":{"field":"x","type":"quantitative","scale":{"domain":[50,110],"nice":false},"axis":{"orient":"top","values":[50,55,60,65,70,75,80,85,90,95,100,105,110],"tickSize":-8,"labels":false,"title":null}},
  "y":{"field":"y","type":"quantitative","scale":{"domain":[50,110],"nice":false},"axis":{"orient":"right","values":[50,55,60,65,70,75,80,85,90,95,100,105,110],"tickSize":-8,"labels":false,"title":null}}}},
 {"data":{"values":[{}]},"mark":{"type":"text","text":"CCPR","align":"right","baseline":"alphabetic","fontSize":28,"color":"black"},"encoding":{
  "x":{"datum":105.7,"type":"quantitative","axis":null},"y":{"datum":51.9,"type":"quantitative","axis":null}}}
]}
]
}
